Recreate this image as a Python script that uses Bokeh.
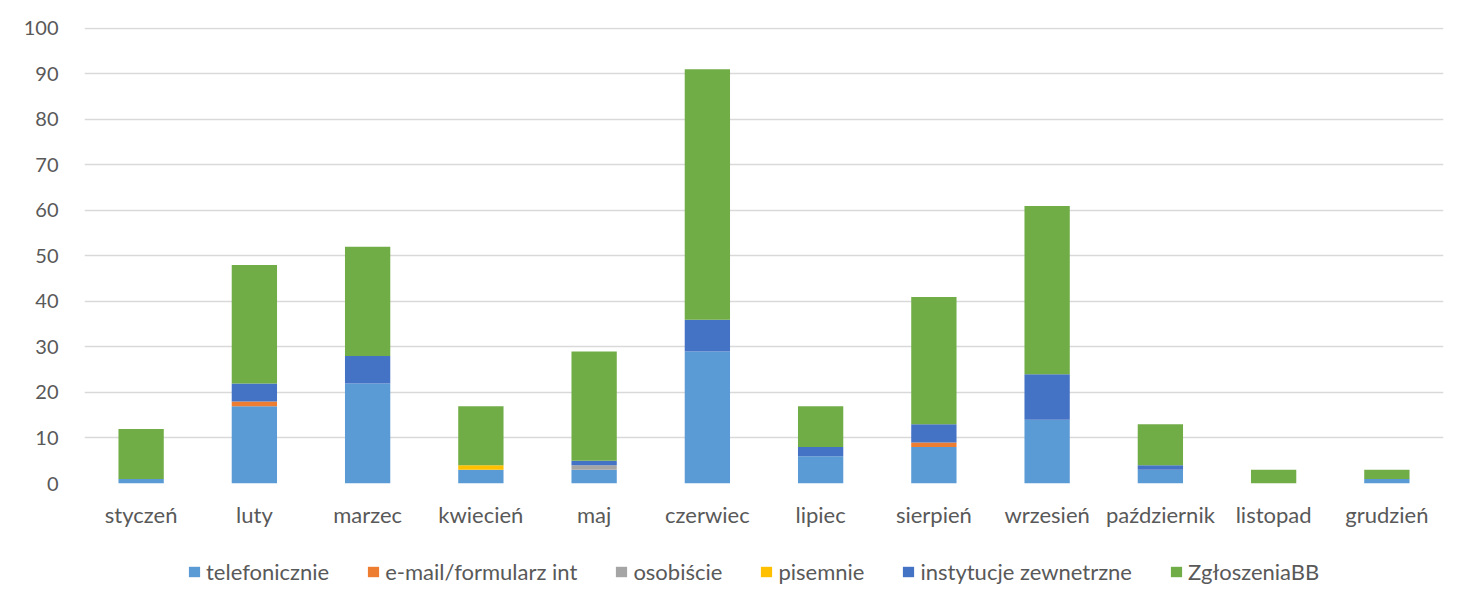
from bokeh.plotting import figure
from bokeh.layouts import column
from bokeh.models import ColumnDataSource, Legend, LegendItem, FactorRange, Range1d, SingleIntervalTicker
from bokeh.embed import file_html
from bokeh.resources import INLINE

months = ["styczeń", "luty", "marzec", "kwiecień", "maj", "czerwiec", "lipiec",
          "sierpień", "wrzesień", "październik", "listopad", "grudzień"]
telefonicznie = [1, 17, 22, 3, 3, 29, 6, 8, 14, 3, 0, 1]
email = [0, 1, 0, 0, 0, 0, 0, 1, 0, 0, 0, 0]
osobiscie = [0, 0, 0, 0, 1, 0, 0, 0, 0, 0, 0, 0]
pisemnie = [0, 0, 0, 1, 0, 0, 0, 0, 0, 0, 0, 0]
instytucje = [0, 4, 6, 0, 1, 7, 2, 4, 10, 1, 0, 0]
zgloszenia = [11, 26, 24, 13, 24, 55, 9, 28, 37, 9, 3, 2]

series_keys = ["tel", "email", "osob", "pis", "inst", "zgl"]
series_labels = ["telefonicznie", "e-mail/formularz int", "osobiście", "pisemnie",
                 "instytucje zewnetrzne", "ZgłoszeniaBB"]
colors = ["#5B9BD5", "#ED7D31", "#A5A5A5", "#FFC000", "#4472C4", "#70AD47"]

source = ColumnDataSource(dict(month=months, tel=telefonicznie, email=email, osob=osobiscie,
                               pis=pisemnie, inst=instytucje, zgl=zgloszenia))

FONT = "Lato"
TXT = "#595959"

p = figure(x_range=FactorRange(*months), y_range=Range1d(0, 100.2),
           width=1445, height=530, output_backend="svg", toolbar_location=None,
           min_border_left=84, min_border_right=2, min_border_top=27, min_border_bottom=42)

renderers = p.vbar_stack(series_keys, x="month", width=0.4, color=colors, source=source,
                         line_color=None)

p.outline_line_color = None
p.xgrid.grid_line_color = None
p.ygrid.grid_line_color = "#D9D9D9"
p.ygrid.grid_line_width = 1.5
p.yaxis.ticker = SingleIntervalTicker(interval=10)
for ax in (p.xaxis[0], p.yaxis[0]):
    ax.axis_line_color = None
    ax.major_tick_line_color = None
    ax.minor_tick_line_color = None
    ax.major_label_text_font = FONT
    ax.major_label_text_color = TXT
p.yaxis.major_label_text_font_size = "20px"
p.xaxis.major_label_text_font_size = "22px"
p.yaxis.major_label_standoff = 20
p.xaxis.major_label_standoff = 11
p.x_range.range_padding = 0
p.x_range.group_padding = 0

# legend strip below the chart (zero-height proxy bars carry the legend swatches)
p2 = figure(width=1445, height=55, output_backend="svg", toolbar_location=None,
            min_border=0, x_range=Range1d(0, 1), y_range=Range1d(0, 1))
p2.axis.visible = False
p2.grid.visible = False
p2.outline_line_color = None
proxy = ColumnDataSource(dict(x=[0.5], top=[0]))
dummies = [p2.vbar(x="x", top="top", width=0.01, source=proxy, fill_color=c, line_color=None)
           for c in colors]

items = [LegendItem(label=l, renderers=[r]) for l, r in zip(series_labels, dummies)]
legend = Legend(items=items, orientation="horizontal", location=(103, 0),
                label_text_font=FONT, label_text_font_size="22px", label_text_color=TXT,
                glyph_width=14, glyph_height=13, label_standoff=5, spacing=37,
                border_line_color=None, background_fill_alpha=0, margin=0, padding=0)
p2.add_layout(legend, "center")

open("out.html", "w").write(file_html(column(p, p2, spacing=0), INLINE))
